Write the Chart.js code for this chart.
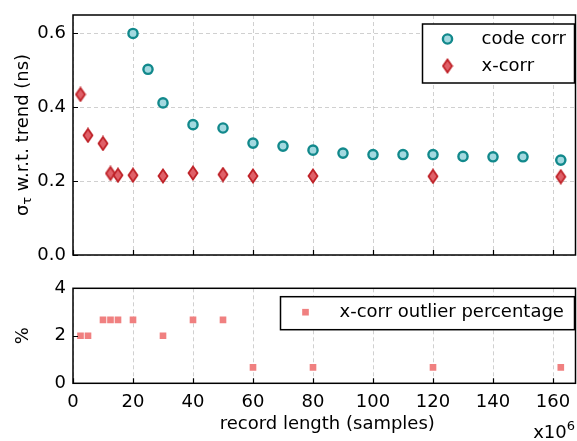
<!DOCTYPE html>
<html>
<head>
<meta charset="utf-8">
<script src="https://cdn.jsdelivr.net/npm/chart.js@4.4.1/dist/chart.umd.min.js"></script>
<style>
  body { margin: 0; background: #fff; }
  #wrap { position: relative; width: 577px; height: 441px; }
  #wrap canvas { position: absolute; left: 0; }
  #grafico-sigma { top: 0; }
  #grafico-outlier { top: 270px; }
</style>
</head>
<body>
<div id="wrap">
  <canvas id="grafico-sigma" width="577" height="270"></canvas>
  <canvas id="grafico-outlier" width="577" height="171"></canvas>
</div>
<script>
// DADOS (x em milhoes de amostras)
var codeCorrX = [20, 25, 30, 40, 50, 60, 70, 80, 90, 100, 110, 120, 130, 140, 150, 162.6];
var codeCorrY = [0.600, 0.503, 0.412, 0.353, 0.344, 0.303, 0.295, 0.284, 0.276, 0.272, 0.272, 0.272, 0.267, 0.266, 0.266, 0.257];
var xCorrX = [2.5, 5, 10, 12.5, 15, 20, 30, 40, 50, 60, 80, 120, 162.6];
var xCorrY = [0.435, 0.324, 0.302, 0.221, 0.216, 0.216, 0.214, 0.222, 0.218, 0.214, 0.214, 0.213, 0.212];
var outlierX = [2.5, 5, 10, 12.5, 15, 20, 30, 40, 50, 60, 80, 120, 162.6];
var outlierPct = [2, 2, 2.67, 2.67, 2.67, 2.67, 2, 2.67, 2.67, 0.67, 0.67, 0.67, 0.67];
var xTicks = [0, 20, 40, 60, 80, 100, 120, 140, 160];
var sigmaTicks = [0, 0.2, 0.4, 0.6];
var pctTicks = [0, 2, 4];

var FONTE = 'DejaVu Sans';
var TAM = 18;
var corGrade = '#d0d0d0';

Chart.defaults.font.family = FONTE;
Chart.defaults.font.size = TAM;
Chart.defaults.color = '#000';

function toPoints(xs, ys) {
    return xs.map(function(x, i) { return { x: x, y: ys[i] }; });
}

// marcador diamante fino (estilo 'd' do matplotlib)
function criarDiamante(w, h, fill, stroke) {
    var c = document.createElement('canvas');
    c.width = w + 3;
    c.height = h + 3;
    var g = c.getContext('2d');
    var cx = c.width / 2, cy = c.height / 2;
    g.beginPath();
    g.moveTo(cx, cy - h / 2);
    g.lineTo(cx + w / 2, cy);
    g.lineTo(cx, cy + h / 2);
    g.lineTo(cx - w / 2, cy);
    g.closePath();
    g.fillStyle = fill;
    g.fill();
    g.lineWidth = 1.8;
    g.strokeStyle = stroke;
    g.stroke();
    return c;
}
var diamante = criarDiamante(9, 13, '#e06068', '#bf2228');

// moldura preta + ticks para dentro
var molduraPlugin = {
    id: 'moldura',
    afterDraw: function(chart) {
        var ctx = chart.ctx, a = chart.chartArea;
        var sx = chart.scales.x, sy = chart.scales.y;
        ctx.save();
        ctx.strokeStyle = '#000';
        ctx.lineWidth = 1.2;
        ctx.beginPath();
        sx.ticks.forEach(function(t) {
            var px = Math.round(sx.getPixelForValue(t.value)) + 0.5;
            ctx.moveTo(px, a.bottom);
            ctx.lineTo(px, a.bottom - 5);
        });
        sy.ticks.forEach(function(t) {
            var py = Math.round(sy.getPixelForValue(t.value)) + 0.5;
            ctx.moveTo(a.left, py);
            ctx.lineTo(a.left + 5, py);
        });
        ctx.stroke();
        ctx.lineWidth = 1.5;
        ctx.strokeRect(a.left, a.top, a.right - a.left, a.bottom - a.top);
        ctx.restore();
    }
};

// legenda em caixa dentro da area do grafico
var legendaPlugin = {
    id: 'legendaCaixa',
    afterDraw: function(chart, args, opts) {
        if (!opts.rows) return;
        var ctx = chart.ctx, a = chart.chartArea;
        var x0 = a.right - opts.right - opts.w;
        var y0 = a.top + opts.top;
        ctx.save();
        ctx.fillStyle = '#fff';
        ctx.fillRect(x0, y0, opts.w, opts.h);
        ctx.strokeStyle = '#000';
        ctx.lineWidth = 1.5;
        ctx.strokeRect(x0, y0, opts.w, opts.h);
        ctx.font = TAM + 'px "' + FONTE + '"';
        ctx.textBaseline = 'middle';
        opts.rows.forEach(function(r, i) {
            var ds = chart.data.datasets[r];
            var cy = y0 + opts.firstRow + i * opts.rowGap;
            ctx.fillStyle = ds.backgroundColor;
            ctx.strokeStyle = ds.borderColor;
            ctx.lineWidth = ds.borderWidth;
            Chart.helpers.drawPoint(ctx, {
                pointStyle: ds.pointStyle,
                radius: ds.pointRadius,
                borderWidth: ds.borderWidth,
                rotation: 0
            }, x0 + opts.marker, cy);
            ctx.fillStyle = '#000';
            ctx.fillText(ds.label, x0 + opts.text, cy);
        });
        ctx.restore();
    }
};

// titulos dos eixos desenhados a mao (subscrito / expoente)
var titulosPlugin = {
    id: 'titulos',
    afterDraw: function(chart, args, opts) {
        var ctx = chart.ctx, a = chart.chartArea;
        ctx.save();
        ctx.fillStyle = '#000';
        ctx.textBaseline = 'alphabetic';
        var f = TAM + 'px "' + FONTE + '"';
        var fs = Math.round(TAM * 0.7) + 'px "' + FONTE + '"';
        if (opts.yParts) {
            var partes = opts.yParts;
            var total = 0;
            partes.forEach(function(p) {
                ctx.font = p.sub ? fs : f;
                p.w = ctx.measureText(p.t).width;
                total += p.w;
            });
            ctx.translate(opts.yX, (a.top + a.bottom) / 2);
            ctx.rotate(-Math.PI / 2);
            var cx = -total / 2;
            partes.forEach(function(p) {
                ctx.font = p.sub ? fs : f;
                ctx.fillText(p.t, cx, p.sub ? 6 + 3 : 6);
                cx += p.w;
            });
            ctx.setTransform(1, 0, 0, 1, 0, 0);
        }
        if (opts.xTitle) {
            ctx.font = f;
            ctx.textAlign = 'center';
            ctx.fillText(opts.xTitle, (a.left + a.right) / 2 + 3, opts.xTitleY);
        }
        if (opts.expoente) {
            ctx.textAlign = 'right';
            ctx.font = fs;
            var w6 = ctx.measureText(opts.expoente).width;
            ctx.fillText(opts.expoente, 575, opts.expY - 8);
            ctx.font = f;
            ctx.fillText('x10', 575 - w6, opts.expY);
        }
        ctx.restore();
    }
};

function eixoX(mostrarRotulos, altura) {
    return {
        type: 'linear',
        min: 0,
        max: 167.5,
        afterBuildTicks: function(s) { s.ticks = xTicks.map(function(v) { return { value: v }; }); },
        afterFit: function(s) { s.height = altura; s.paddingLeft = 0; s.paddingRight = 0; },
        grid: { color: corGrade, lineWidth: 1, drawTicks: false },
        border: { display: false, dash: [4, 3] },
        ticks: { display: mostrarRotulos, padding: 8, color: '#000', font: { size: TAM } }
    };
}

function eixoY(min, max, ticks, grade, fmt) {
    return {
        type: 'linear',
        min: min,
        max: max,
        afterBuildTicks: function(s) { s.ticks = ticks.map(function(v) { return { value: v }; }); },
        afterFit: function(s) { s.width = 73; s.paddingTop = 0; s.paddingBottom = 0; },
        grid: { display: grade, color: corGrade, lineWidth: 1, drawTicks: false },
        border: { display: false, dash: [4, 3] },
        ticks: { padding: 7, color: '#000', callback: fmt }
    };
}

var graficoSigma = new Chart(document.getElementById('grafico-sigma').getContext('2d'), {
    type: 'scatter',
    data: {
        datasets: [{
            label: 'code corr',
            data: toPoints(codeCorrX, codeCorrY),
            pointStyle: 'circle',
            pointRadius: 4.6,
            borderWidth: 2.4,
            backgroundColor: '#a3d9e0',
            borderColor: '#12898c'
        }, {
            label: 'x-corr',
            data: toPoints(xCorrX, xCorrY),
            pointStyle: diamante,
            pointRadius: 6,
            borderWidth: 0,
            backgroundColor: '#e06068',
            borderColor: '#bf2228'
        }]
    },
    options: {
        responsive: false,
        animation: false,
        layout: { autoPadding: false, padding: { top: 15, right: 1.5, left: 0, bottom: 0 } },
        scales: {
            x: eixoX(false, 15),
            y: eixoY(0, 0.65, sigmaTicks, true, function(v) { return v.toFixed(1); })
        },
        plugins: {
            legend: { display: false },
            tooltip: { enabled: false },
            legendaCaixa: { rows: [0, 1], right: 1, top: 9, w: 152, h: 59, firstRow: 15, rowGap: 27, marker: 25, text: 59 },
            titulos: {
                yX: 22,
                yParts: [{ t: 'σ' }, { t: 'τ', sub: true }, { t: ' w.r.t. trend (ns)' }]
            }
        }
    },
    plugins: [molduraPlugin, legendaPlugin, titulosPlugin]
});

var graficoOutlier = new Chart(document.getElementById('grafico-outlier').getContext('2d'), {
    type: 'scatter',
    data: {
        datasets: [{
            label: 'x-corr outlier percentage',
            data: toPoints(outlierX, outlierPct),
            pointStyle: 'rect',
            pointRadius: 4.7,
            borderWidth: 0,
            backgroundColor: '#f08080',
            borderColor: '#f08080'
        }]
    },
    options: {
        responsive: false,
        animation: false,
        layout: { autoPadding: false, padding: { top: 18.3, right: 1.5, left: 0, bottom: 0 } },
        scales: {
            x: eixoX(true, 57.7),
            y: eixoY(0, 4, pctTicks, false, function(v) { return v; })
        },
        plugins: {
            legend: { display: false },
            tooltip: { enabled: false },
            legendaCaixa: { rows: [0], right: 1, top: 8.4, w: 294, h: 33, firstRow: 15.5, rowGap: 0, marker: 25, text: 59 },
            titulos: {
                yX: 22,
                yParts: [{ t: '%' }],
                xTitle: 'record length (samples)',
                xTitleY: 159,
                expoente: '6',
                expY: 168
            }
        }
    },
    plugins: [molduraPlugin, legendaPlugin, titulosPlugin]
});
</script>
</body>
</html>
